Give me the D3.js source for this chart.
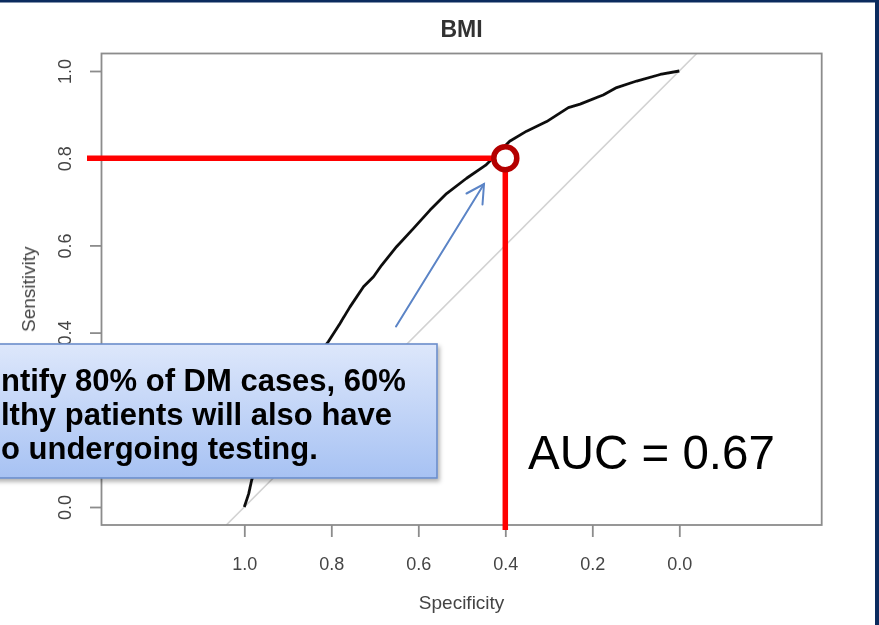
<!DOCTYPE html>
<html>
<head>
<meta charset="utf-8">
<script src="https://cdn.jsdelivr.net/npm/d3@7"></script>
<style>
  html, body { margin: 0; padding: 0; background: #ffffff; }
  svg { display: block; }
</style>
</head>
<body>
<svg id="chart" width="879" height="625"></svg>
<script>
// ROC curve for BMI: specificity (x, reversed) vs sensitivity (y)
const specificity = [1.000, 0.990, 0.983, 0.969, 0.948, 0.918, 0.884, 0.849, 0.826, 0.807,
                     0.780, 0.757, 0.726, 0.703, 0.684, 0.650, 0.611, 0.573, 0.535, 0.489,
                     0.445, 0.390, 0.351, 0.305, 0.255, 0.228, 0.175, 0.144, 0.098, 0.044, 0.000];
const sensitivity = [0.000, 0.030, 0.062, 0.103, 0.154, 0.211, 0.268, 0.326, 0.355, 0.379,
                     0.421, 0.459, 0.505, 0.528, 0.555, 0.597, 0.639, 0.681, 0.719, 0.754,
                     0.784, 0.839, 0.862, 0.884, 0.916, 0.924, 0.945, 0.962, 0.977, 0.992, 1.000];

const xTicks = [1.0, 0.8, 0.6, 0.4, 0.2, 0.0];
const yTicks = [0.0, 0.2, 0.4, 0.6, 0.8, 1.0];

// highlighted operating point
const cutSpecificity = 0.4;
const cutSensitivity = 0.8;

const titleText = "BMI";
const xLabel = "Specificity";
const yLabel = "Sensitivity";
const aucText = "AUC = 0.67";
const noteLines = ["ntify 80% of DM cases, 60%", "lthy patients will also have", "o undergoing testing."];

const svg = d3.select("#chart");
const FONT = "'Liberation Sans', Arial, Helvetica, sans-serif";

const x = d3.scaleLinear().domain([1, 0]).range([244.3, 679.3]);
const y = d3.scaleLinear().domain([0, 1]).range([507, 71]);

const box = { left: 101.5, right: 821.7, top: 53.5, bottom: 525 };

const defs = svg.append("defs");
defs.append("filter").attr("id", "soft")
  .append("feGaussianBlur").attr("stdDeviation", 0.45);
const grad = defs.append("linearGradient").attr("id", "noteFill")
  .attr("x1", 0).attr("y1", 0).attr("x2", 0).attr("y2", 1);
grad.append("stop").attr("offset", "0%").attr("stop-color", "#dde7fb");
grad.append("stop").attr("offset", "100%").attr("stop-color", "#a7c2f3");
const shadow = defs.append("filter").attr("id", "shadow")
  .attr("x", "-10%").attr("y", "-10%").attr("width", "130%").attr("height", "140%");
shadow.append("feDropShadow").attr("dx", 2).attr("dy", 3).attr("stdDeviation", 2)
  .attr("flood-color", "#000").attr("flood-opacity", 0.3);
const clip = defs.append("clipPath").attr("id", "plotClip");
clip.append("rect").attr("x", box.left).attr("y", box.top)
  .attr("width", box.right - box.left).attr("height", box.bottom - box.top);

// slide frame
svg.append("rect").attr("x", 0).attr("y", 0).attr("width", 879).attr("height", 2.5).attr("fill", "#0b2b5e");
svg.append("rect").attr("x", 875).attr("y", 0).attr("width", 4).attr("height", 625).attr("fill", "#0b2b5e");

const plot = svg.append("g").attr("filter", "url(#soft)");

// chance diagonal: sensitivity = 1 - specificity
const diagSens = [y.invert(box.bottom), y.invert(box.top)];
plot.append("line")
  .attr("clip-path", "url(#plotClip)")
  .attr("x1", x(1 - diagSens[0])).attr("y1", y(diagSens[0]))
  .attr("x2", x(1 - diagSens[1])).attr("y2", y(diagSens[1]))
  .attr("stroke", "#d2d2d2").attr("stroke-width", 1.6);

// ROC curve
const rocData = specificity.map((s, i) => ({ spec: s, sens: sensitivity[i] }));
plot.append("path")
  .datum(rocData)
  .attr("d", d3.line().x(d => x(d.spec)).y(d => y(d.sens)))
  .attr("fill", "none").attr("stroke", "#111").attr("stroke-width", 2.8)
  .attr("stroke-linejoin", "round");

// plot frame
plot.append("rect")
  .attr("x", box.left).attr("y", box.top)
  .attr("width", box.right - box.left).attr("height", box.bottom - box.top)
  .attr("fill", "none").attr("stroke", "#8c8c8c").attr("stroke-width", 1.8);

// x axis
const xAxis = plot.append("g").attr("transform", `translate(0,${box.bottom})`)
  .call(d3.axisBottom(x).tickValues(xTicks).tickFormat(d3.format(".1f")).tickSize(12));
xAxis.select(".domain").remove();
xAxis.selectAll(".tick line").attr("stroke", "#8c8c8c").attr("stroke-width", 1.8);
xAxis.selectAll(".tick text")
  .attr("y", 38.5).attr("dy", "0.35em")
  .attr("fill", "#444").style("font", `18px ${FONT}`);

// y axis with rotated labels
const yAxis = plot.append("g").attr("transform", `translate(${box.left},0)`)
  .call(d3.axisLeft(y).tickValues(yTicks).tickFormat(d3.format(".1f")).tickSize(11.5));
yAxis.select(".domain").remove();
yAxis.selectAll(".tick line").attr("stroke", "#8c8c8c").attr("stroke-width", 1.8);
yAxis.selectAll(".tick text")
  .attr("transform", "rotate(-90)")
  .attr("x", 0).attr("y", -37).attr("dy", "0.35em")
  .attr("text-anchor", "middle")
  .attr("fill", "#444").style("font", `18px ${FONT}`);

// titles
plot.append("text").attr("x", (box.left + box.right) / 2).attr("y", 37)
  .attr("text-anchor", "middle").attr("fill", "#333")
  .style("font", `bold 23px ${FONT}`).text(titleText);
plot.append("text").attr("x", (box.left + box.right) / 2).attr("y", 602).attr("dy", "0.35em")
  .attr("text-anchor", "middle").attr("fill", "#444")
  .style("font", `19px ${FONT}`).text(xLabel);
plot.append("text")
  .attr("transform", `translate(28,${(box.top + box.bottom) / 2}) rotate(-90)`)
  .attr("dy", "0.35em").attr("text-anchor", "middle").attr("fill", "#444")
  .style("font", `19px ${FONT}`).text(yLabel);

// operating point guides
const cx = x(cutSpecificity), cy = y(cutSensitivity);
const ringR = 11.5;
svg.append("line")
  .attr("x1", 87).attr("y1", cy).attr("x2", cx - ringR).attr("y2", cy)
  .attr("stroke", "#ff0000").attr("stroke-width", 5.5);
svg.append("line")
  .attr("x1", cx).attr("y1", cy + ringR).attr("x2", cx).attr("y2", 530)
  .attr("stroke", "#ff0000").attr("stroke-width", 5.5);
svg.append("circle")
  .attr("cx", cx).attr("cy", cy).attr("r", ringR)
  .attr("fill", "#ffffff").attr("stroke", "#b40000").attr("stroke-width", 5.5);

// pointer arrow
const arrow = svg.append("g").attr("stroke", "#5b84c6").attr("stroke-width", 2)
  .attr("fill", "none").attr("stroke-linecap", "round");
arrow.append("line").attr("x1", 396).attr("y1", 326.5).attr("x2", 484).attr("y2", 184);
arrow.append("polyline").attr("points", "466.5,193.5 484,184 482.5,204.5");

// callout box
svg.append("rect")
  .attr("x", -20).attr("y", 344).attr("width", 457).attr("height", 134)
  .attr("fill", "url(#noteFill)").attr("stroke", "#6c8ecb").attr("stroke-width", 1.6)
  .attr("filter", "url(#shadow)");
svg.append("g").selectAll("text").data(noteLines).join("text")
  .attr("x", 1)
  .attr("y", (d, i) => 391 + i * 34)
  .attr("fill", "#000")
  .style("font", `bold 31px ${FONT}`)
  .text(d => d);

// AUC annotation
svg.append("text").attr("x", 528).attr("y", 469)
  .attr("fill", "#000").style("font", `47.5px ${FONT}`).text(aucText);
</script>
</body>
</html>
